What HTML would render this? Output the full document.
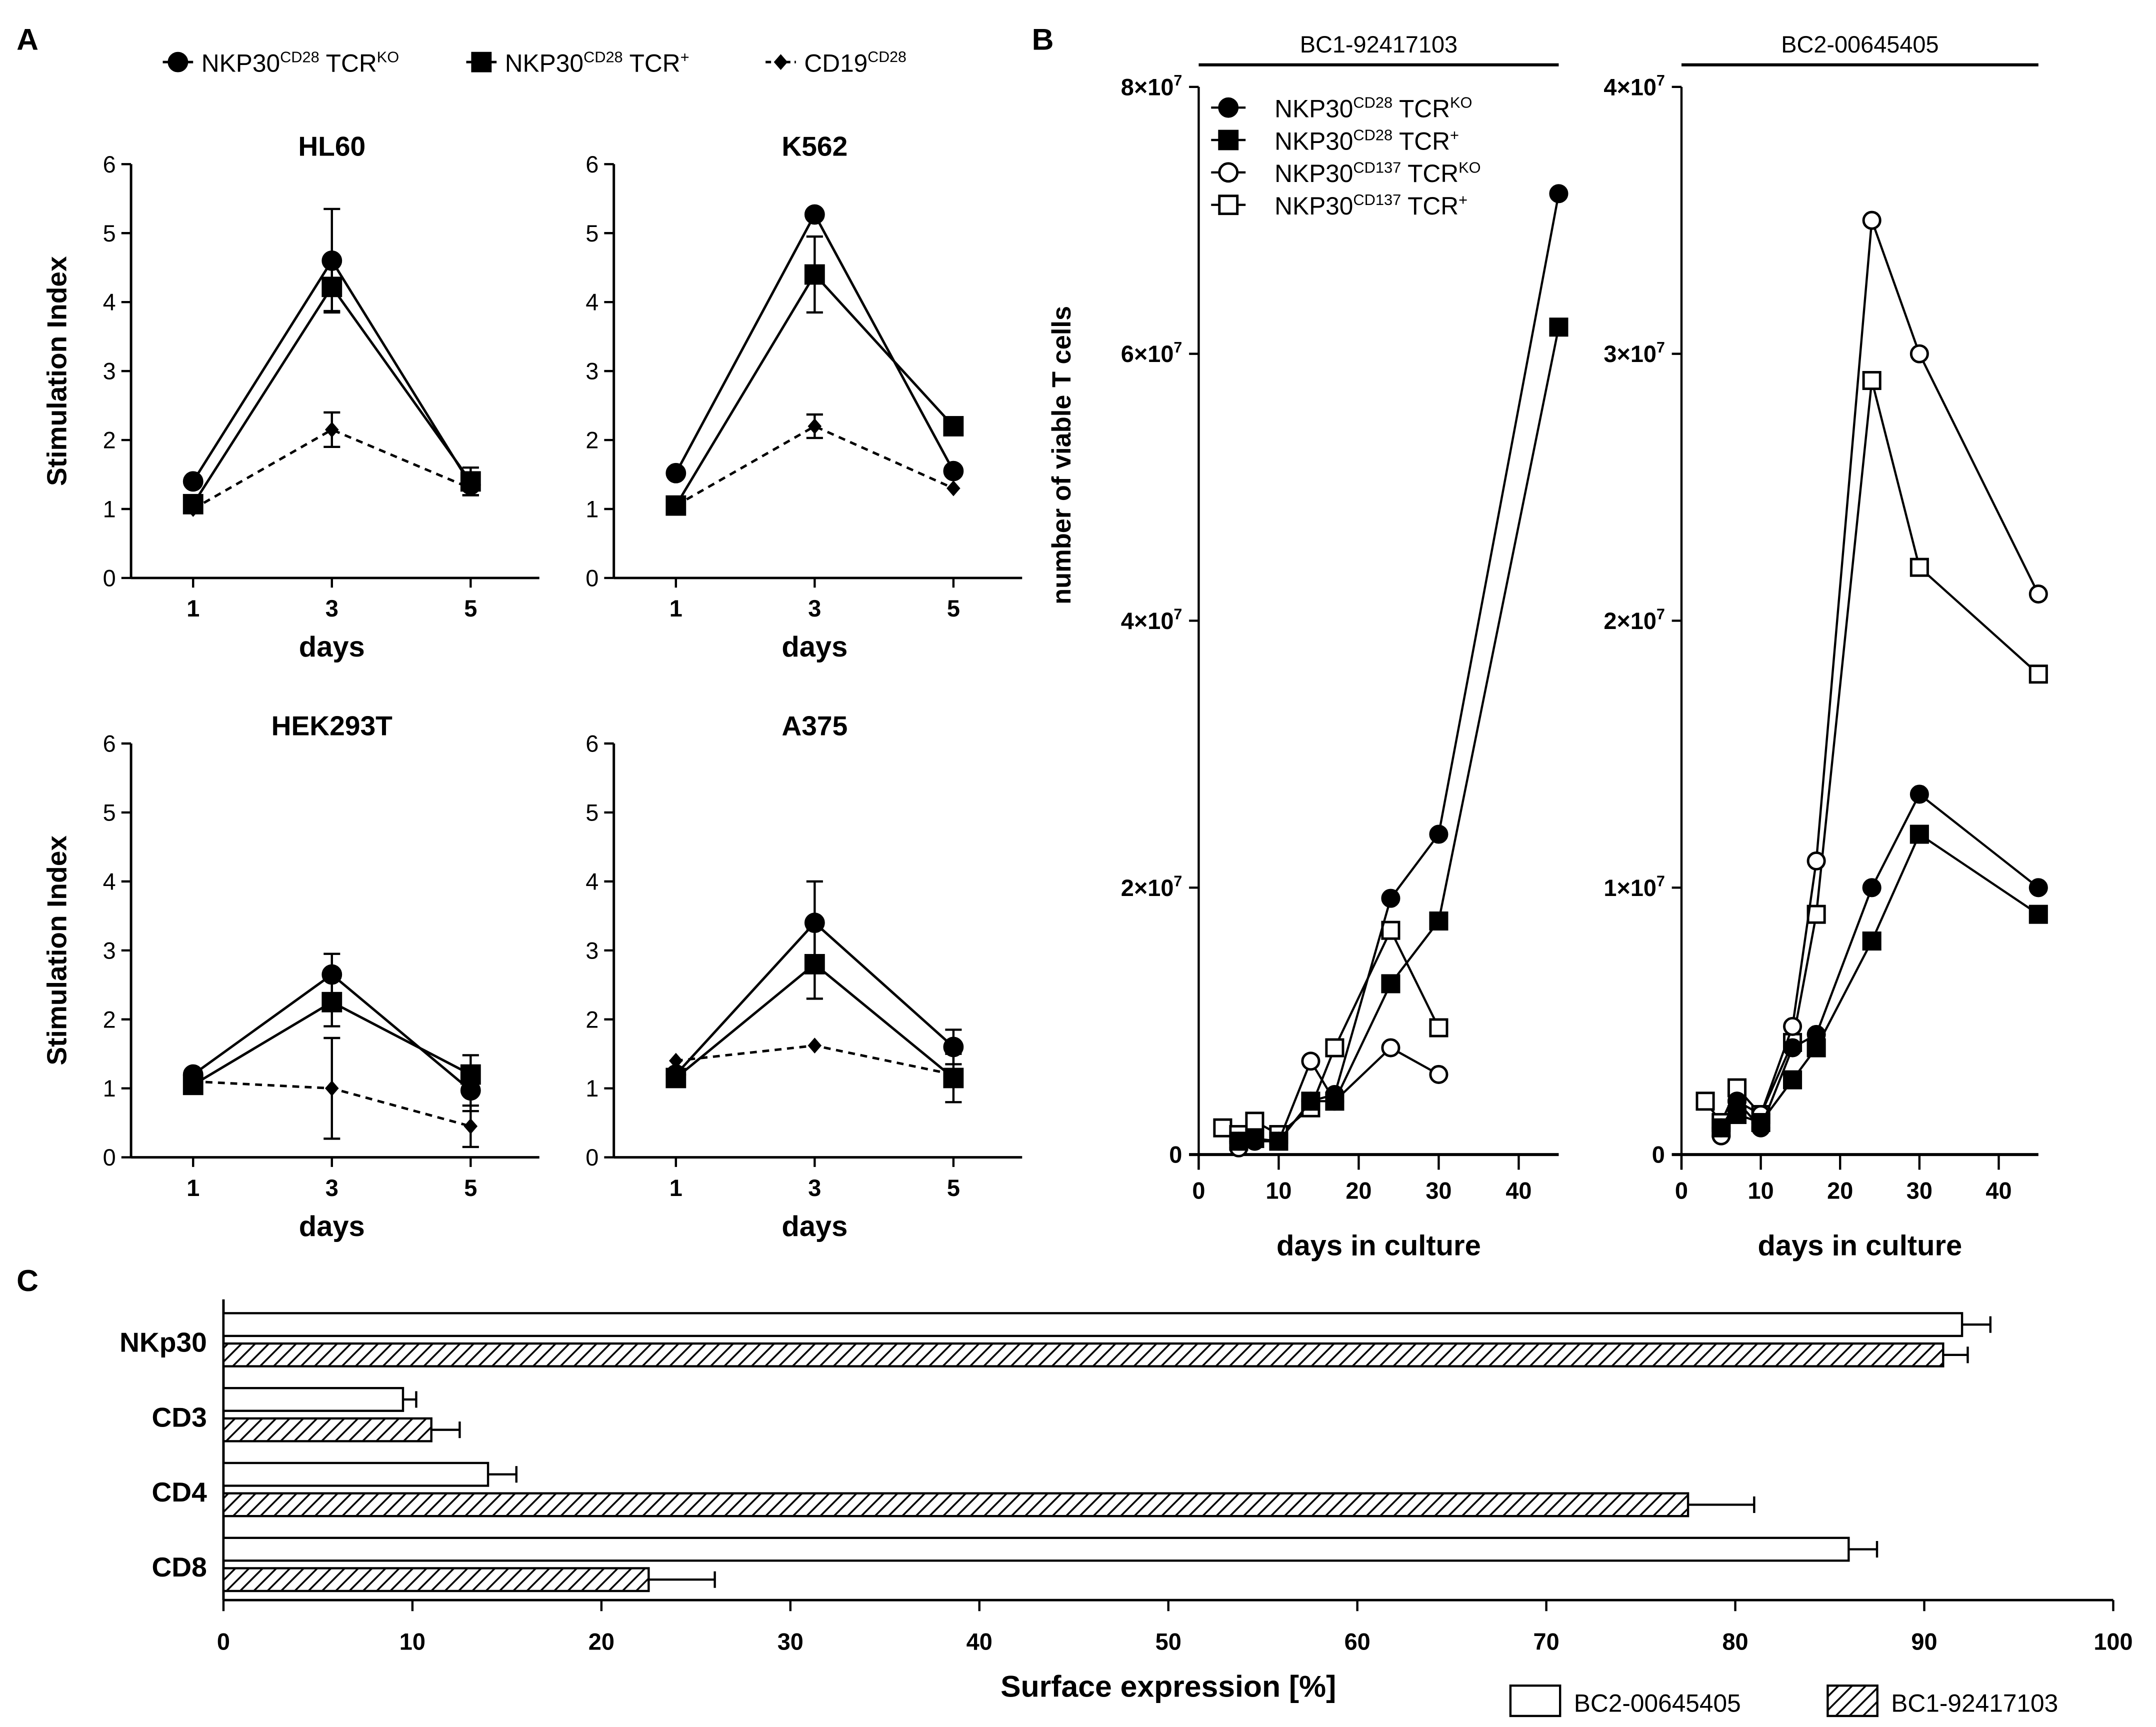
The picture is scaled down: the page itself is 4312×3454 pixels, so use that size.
<!DOCTYPE html>
<html><head><meta charset="utf-8"><style>
html,body{margin:0;padding:0;background:#fff}
svg{display:block}
text{font-family:"Liberation Sans",Arial,sans-serif;fill:#000}
</style></head><body>
<svg id="fig" xmlns="http://www.w3.org/2000/svg" width="4312" height="3454" viewBox="0 0 1563 1252">
<defs>
<pattern id="hatch" patternUnits="userSpaceOnUse" width="7" height="7" patternTransform="rotate(45)">
<rect width="7" height="7" fill="#fff"/><line x1="0" y1="0" x2="0" y2="7" stroke="#000" stroke-width="2.6"/>
</pattern>
</defs>
<text x="12" y="36" font-size="22" font-weight="bold">A</text>
<text x="748" y="36" font-size="22" font-weight="bold">B</text>
<text x="12" y="936" font-size="22" font-weight="bold">C</text>
<g id="legendA"></g>
<g id="gA"></g>
<g id="gB"></g>
<g id="gC"></g>
</svg>
<script>
// ---------- Panel A data ----------
const daysA = [1, 3, 5];
const cellLines = ["HL60", "K562", "HEK293T", "A375"];
const koA = [[1.4, 4.6, 1.35], [1.52, 5.27, 1.55], [1.2, 2.65, 0.97], [1.2, 3.4, 1.6]];
const koErrA = [[0, 0.75, 0.15], [0, 0, 0], [0, 0.3, 0.3], [0, 0.6, 0.25]];
const posA = [[1.07, 4.22, 1.4], [1.05, 4.4, 2.2], [1.05, 2.25, 1.2], [1.15, 2.8, 1.15]];
const posErrA = [[0, 0.35, 0.2], [0, 0.55, 0.12], [0, 0.35, 0.28], [0, 0.5, 0.35]];
const cd19A = [[1.0, 2.15, 1.3], [1.05, 2.2, 1.3], [1.1, 1.0, 0.45], [1.4, 1.62, 1.2]];
const cd19ErrA = [[0, 0.25, 0.1], [0, 0.17, 0], [0, 0.73, 0.3], [0, 0, 0]];
const yTicksA = [0, 1, 2, 3, 4, 5, 6];

// ---------- Panel B data ----------
const daysB = [3, 5, 7, 10, 14, 17, 24, 30, 45];
const bc1KO28 = [null, 0.1, 0.1, 0.1, 0.4, 0.45, 1.92, 2.4, 7.2];
const bc1Pos28 = [null, 0.1, 0.12, 0.1, 0.4, 0.4, 1.28, 1.75, 6.2];
const bc1KO137 = [null, 0.05, 0.1, 0.1, 0.7, 0.4, 0.8, 0.6, null];
const bc1Pos137 = [0.2, 0.15, 0.25, 0.15, 0.35, 0.8, 1.68, 0.95, null];
const bc2KO28 = [null, 0.1, 0.2, 0.1, 0.4, 0.45, 1.0, 1.35, 1.0];
const bc2Pos28 = [null, 0.1, 0.15, 0.12, 0.28, 0.4, 0.8, 1.2, 0.9];
const bc2KO137 = [null, 0.07, 0.2, 0.15, 0.48, 1.1, 3.5, 3.0, 2.1];
const bc2Pos137 = [0.2, 0.12, 0.25, 0.15, 0.42, 0.9, 2.9, 2.2, 1.8];
const xTicksB = [0, 10, 20, 30, 40];
const yTicksB1 = [0, 2, 4, 6, 8];
const yTicksB2 = [0, 1, 2, 3, 4];

// ---------- Panel C data ----------
const markers = ["NKp30", "CD3", "CD4", "CD8"];
const bc2Vals = [92, 9.5, 14, 86];
const bc2Err = [1.5, 0.7, 1.5, 1.5];
const bc1Vals = [91, 11, 77.5, 22.5];
const bc1Err = [1.3, 1.5, 3.5, 3.5];
const xTicksC = [0, 10, 20, 30, 40, 50, 60, 70, 80, 90, 100];

const NS = "http://www.w3.org/2000/svg";
function mk(tag, attrs, parent, txt) {
  const e = document.createElementNS(NS, tag);
  for (const k in attrs) e.setAttribute(k, attrs[k]);
  if (txt !== undefined) e.textContent = txt;
  parent.appendChild(e);
  return e;
}
function marker(parent, type, x, y, r) {
  let e;
  if (type === "circle" || type === "ocircle") {
    e = mk("circle", {cx: x, cy: y, r: r, fill: type === "circle" ? "#000" : "#fff", stroke: "#000", "stroke-width": 1.8}, parent);
  } else if (type === "square" || type === "osquare") {
    e = mk("rect", {x: x - r, y: y - r, width: 2 * r, height: 2 * r, fill: type === "square" ? "#000" : "#fff", stroke: "#000", "stroke-width": 1.8}, parent);
  } else {
    e = mk("polygon", {points: `${x},${y - r * 1.15} ${x + r},${y} ${x},${y + r * 1.15} ${x - r},${y}`, fill: "#000"}, parent);
  }
  return e;
}
function labelSup(parent, x, y, size, a, sa, b, sb, anchor) {
  const t = mk("text", {x: x, y: y, "font-size": size, "text-anchor": anchor || "start"}, parent);
  mk("tspan", {}, t, a);
  mk("tspan", {"font-size": size * 0.62, dy: -size * 0.38}, t, sa);
  mk("tspan", {dy: size * 0.38}, t, " " + b);
  mk("tspan", {"font-size": size * 0.62, dy: -size * 0.38}, t, sb);
  return t;
}

// ---------- Panel A legend ----------
const lg = document.getElementById("legendA");
const legA = [["circle", "CD28", "TCR", "KO", 118, false], ["square", "CD28", "TCR", "+", 338, false], ["diamond", "CD28", "", "", 555, true]];
legA.forEach((l, i) => {
  const g = mk("g", {}, lg);
  
  
  mk("line", {x1: l[4], y1: 45, x2: l[4] + 22, y2: 45, stroke: "#000", "stroke-width": 1.8, "stroke-dasharray": l[5] ? "4,3" : "none"}, g);
  marker(g, l[0], l[4] + 11, 45, l[0] === "diamond" ? 5 : 6.5);
  if (i < 2) labelSup(g, l[4] + 28, 52, 18, "NKP30", l[1], l[2], l[3]);
  else {
    const t = mk("text", {x: l[4] + 28, y: 52, "font-size": 18}, g);
    mk("tspan", {}, t, "CD19");
    mk("tspan", {"font-size": 11, dy: -7}, t, "CD28");
  }
});

// ---------- Panel A charts ----------
const gA = document.getElementById("gA");
const panelsA = [[95, 419], [445, 419], [95, 839], [445, 839]];
cellLines.forEach((name, p) => {
  const [ax, ay] = panelsA[p];
  const g = mk("g", {}, gA);
  
  
  const xs = d => ax + 45 + (d - 1) * 50.3;
  const ys = v => ay - v * 50;
  mk("line", {x1: ax, y1: ys(6), x2: ax, y2: ay, stroke: "#000", "stroke-width": 1.8}, g);
  mk("line", {x1: ax, y1: ay, x2: ax + 296, y2: ay, stroke: "#000", "stroke-width": 1.8}, g);
  yTicksA.forEach(t => {
    mk("line", {x1: ax - 7, y1: ys(t), x2: ax, y2: ys(t), stroke: "#000", "stroke-width": 1.6}, g);
    const tl = mk("text", {x: ax - 11, y: ys(t) + 6, "font-size": 17, "text-anchor": "end"}, g, t);
    
    
  });
  daysA.forEach(d => {
    mk("line", {x1: xs(d), y1: ay, x2: xs(d), y2: ay + 7, stroke: "#000", "stroke-width": 1.6}, g);
    mk("text", {x: xs(d), y: ay + 28, "font-size": 17, "font-weight": "bold", "text-anchor": "middle"}, g, d);
  });
  const xt = mk("text", {x: xs(3), y: ay + 57, "font-size": 21, "font-weight": "bold", "text-anchor": "middle"}, g, "days");
  
  
  const tt = mk("text", {x: xs(3), y: ys(6) - 6, "font-size": 20, "font-weight": "bold", "text-anchor": "middle"}, g, name);
  
  
  if (p % 2 === 0) {
    const yl = mk("text", {x: 0, y: 0, "font-size": 20, "font-weight": "bold", "text-anchor": "middle", transform: `translate(48,${ay - 150}) rotate(-90)`}, g, "Stimulation Index");
    
    
  }
  const series = [[cd19A[p], cd19ErrA[p], "diamond", true], [posA[p], posErrA[p], "square", false], [koA[p], koErrA[p], "circle", false]];
  series.forEach((s, si) => {
    const sg = mk("g", {}, g);
    
    
    const pts = s[0].map((v, i) => xs(daysA[i]) + "," + ys(v)).join(" ");
    mk("polyline", {points: pts, fill: "none", stroke: "#000", "stroke-width": 1.8, "stroke-dasharray": s[3] ? "5,4" : "none"}, sg);
    s[0].forEach((v, i) => {
      const e = s[1][i];
      if (e > 0) {
        const x = xs(daysA[i]);
        mk("line", {x1: x, y1: ys(v - e), x2: x, y2: ys(v + e), stroke: "#000", "stroke-width": 1.6}, sg);
        mk("line", {x1: x - 6, y1: ys(v - e), x2: x + 6, y2: ys(v - e), stroke: "#000", "stroke-width": 1.6}, sg);
        mk("line", {x1: x - 6, y1: ys(v + e), x2: x + 6, y2: ys(v + e), stroke: "#000", "stroke-width": 1.6}, sg);
      }
      const m = marker(sg, s[2], xs(daysA[i]), ys(v), s[2] === "diamond" ? 5 : 6.5);
      
      
    });
  });
});

// ---------- Panel B ----------
const gB = document.getElementById("gB");
const panelsB = [
  {ax: 869, xstep: 5.8, ymax: 8, yt: yTicksB1, title: "BC1-92417103", s: [bc1Pos137, bc1KO137, bc1Pos28, bc1KO28], lbl: ["0", "2×10", "4×10", "6×10", "8×10"]},
  {ax: 1219, xstep: 5.75, ymax: 4, yt: yTicksB2, title: "BC2-00645405", s: [bc2Pos137, bc2KO137, bc2Pos28, bc2KO28], lbl: ["0", "1×10", "2×10", "3×10", "4×10"]}
];
const typesB = ["osquare", "ocircle", "square", "circle"];
panelsB.forEach((P, p) => {
  const g = mk("g", {}, gB);
  
  
  const y0 = 837, ytop = 63;
  const xs = d => P.ax + d * P.xstep;
  const ys = v => y0 - v / P.ymax * (y0 - ytop);
  mk("line", {x1: P.ax, y1: ytop, x2: P.ax, y2: y0 + 11, stroke: "#000", "stroke-width": 1.6}, g);
  mk("line", {x1: P.ax - 7, y1: y0, x2: xs(45), y2: y0, stroke: "#000", "stroke-width": 2.2}, g);
  P.yt.forEach((t, i) => {
    mk("line", {x1: P.ax - 7, y1: ys(t), x2: P.ax, y2: ys(t), stroke: "#000", "stroke-width": 1.6}, g);
    const tl = mk("text", {x: P.ax - 12, y: ys(t) + 6, "font-size": 17, "font-weight": "bold", "text-anchor": "end"}, g);
    if (t === 0) tl.textContent = "0";
    else { mk("tspan", {}, tl, P.lbl[i]); mk("tspan", {"font-size": 11, dy: -7}, tl, "7"); }
    
    
  });
  xTicksB.forEach(t => {
    mk("line", {x1: xs(t), y1: y0, x2: xs(t), y2: y0 + 11, stroke: "#000", "stroke-width": 1.6}, g);
    mk("text", {x: xs(t), y: y0 + 32, "font-size": 17, "font-weight": "bold", "text-anchor": "middle"}, g, t);
  });
  const xt = mk("text", {x: xs(22.5), y: 910, "font-size": 21, "font-weight": "bold", "text-anchor": "middle"}, g, "days in culture");
  
  
  mk("line", {x1: P.ax, y1: 47, x2: xs(45), y2: 47, stroke: "#000", "stroke-width": 2.2}, g);
  const tt = mk("text", {x: xs(22.5), y: 38, "font-size": 17, "text-anchor": "middle"}, g, P.title);
  
  
  P.s.forEach((arr, si) => {
    const sg = mk("g", {}, g);
    
    
    const pts = [];
    arr.forEach((v, i) => { if (v !== null) pts.push(xs(daysB[i]) + "," + ys(v)); });
    mk("polyline", {points: pts.join(" "), fill: "none", stroke: "#000", "stroke-width": 1.6}, sg);
    arr.forEach((v, i) => {
      if (v === null) return;
      const m = marker(sg, typesB[si], xs(daysB[i]), ys(v), 6);
      
      
    });
  });
});
const yb = mk("text", {x: 0, y: 0, "font-size": 19, "font-weight": "bold", "text-anchor": "middle", transform: "translate(776,330) rotate(-90)"}, gB, "number of viable T cells");


const legB = mk("g", {}, gB);


const legBItems = [["circle", "CD28", "KO"], ["square", "CD28", "+"], ["ocircle", "CD137", "KO"], ["osquare", "CD137", "+"]];
legBItems.forEach((l, i) => {
  const y = 78 + i * 23.5;
  mk("line", {x1: 878, y1: y, x2: 903, y2: y, stroke: "#000", "stroke-width": 1.6}, legB);
  marker(legB, l[0], 890.5, y, 6.5);
  labelSup(legB, 924, y + 7, 18, "NKP30", l[1], "TCR", l[2]);
});

// ---------- Panel C ----------
const gC = document.getElementById("gC");
const xC = v => 162 + v * 13.7;
const axC = 1160;
mk("line", {x1: 162, y1: 942, x2: 162, y2: axC, stroke: "#000", "stroke-width": 1.8}, gC);
mk("line", {x1: 162, y1: axC, x2: xC(100), y2: axC, stroke: "#000", "stroke-width": 1.8}, gC);
xTicksC.forEach(t => {
  mk("line", {x1: xC(t), y1: axC, x2: xC(t), y2: axC + 8, stroke: "#000", "stroke-width": 1.6}, gC);
  const tl = mk("text", {x: xC(t), y: axC + 36, "font-size": 17, "font-weight": "bold", "text-anchor": "middle"}, gC, t);
  
  
});
const xtc = mk("text", {x: xC(50), y: 1230, "font-size": 22, "font-weight": "bold", "text-anchor": "middle"}, gC, "Surface expression [%]");


markers.forEach((m, i) => {
  const yTop = 952 + i * 54.3;
  const tl = mk("text", {x: 150, y: yTop + 28, "font-size": 20, "font-weight": "bold", "text-anchor": "end"}, gC, m);
  
  
  [[bc2Vals, bc2Err, "#fff", 0], [bc1Vals, bc1Err, "url(#hatch)", 22]].forEach((s, si) => {
    const y = yTop + s[3], h = 16.5;
    const v = s[0][i], e = s[1][i];
    mk("line", {x1: xC(v), y1: y + h / 2, x2: xC(v + e), y2: y + h / 2, stroke: "#000", "stroke-width": 1.6}, gC);
    mk("line", {x1: xC(v + e), y1: y + h / 2 - 6, x2: xC(v + e), y2: y + h / 2 + 6, stroke: "#000", "stroke-width": 1.6}, gC);
    const b = mk("rect", {x: 162, y: y, width: xC(v) - 162, height: h, fill: s[2], stroke: "#000", "stroke-width": 1.6}, gC);
    
    
  });
});
const legC = [["#fff", "BC2-00645405", 1095], ["url(#hatch)", "BC1-92417103", 1325]];
legC.forEach(l => {
  const g = mk("g", {}, gC);
  
  
  mk("rect", {x: l[2], y: 1222, width: 36, height: 22, fill: l[0], stroke: "#000", "stroke-width": 1.6}, g);
  mk("text", {x: l[2] + 46, y: 1241, "font-size": 18}, g, l[1]);
});
</script>
</body></html>
